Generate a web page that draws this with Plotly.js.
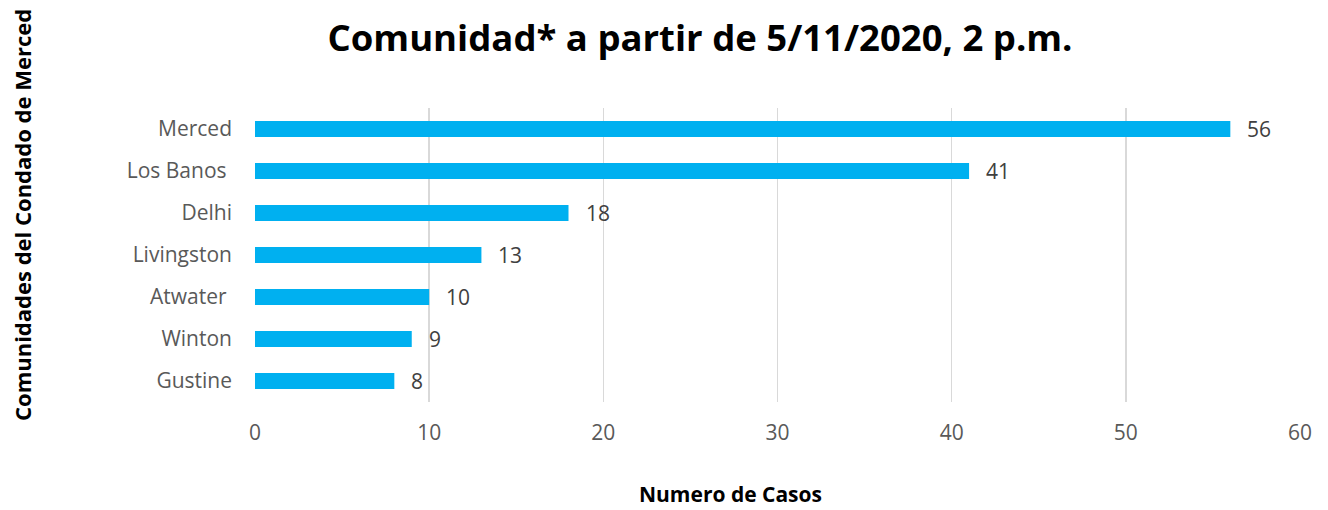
<!DOCTYPE html>
<html>
<head>
<meta charset="utf-8">
<script src="https://cdn.plot.ly/plotly-3.0.1.min.js"></script>
<style>html,body{margin:0;padding:0;background:#fff;}#chart{width:1328px;height:510px;}</style>
</head>
<body>
<div id="chart"></div>
<script>
const communities = ["Merced", "Los Banos\u00a0", "Delhi", "Livingston", "Atwater\u00a0", "Winton", "Gustine"];
const cases = [56, 41, 18, 13, 10, 9, 8];
const xTicks = [0, 10, 20, 30, 40, 50, 60];

const FONT = "Open Sans, Noto Sans, sans-serif";

const labelAnnotations = communities.map((c, i) => ({
  x: cases[i], y: c, xref: "x", yref: "y",
  text: String(cases[i]), showarrow: false,
  xanchor: "left", xshift: 15,
  font: {family: FONT, size: 21, color: "#404040"}
}));

const data = [{
  type: "bar", orientation: "h",
  x: cases, y: communities,
  marker: {color: "#00B0F0"},
  hoverinfo: "none"
}];

const layout = {
  width: 1328, height: 510,
  margin: {l: 255, r: 28, t: 108, b: 108},
  paper_bgcolor: "#fff", plot_bgcolor: "#fff",
  bargap: 0.62,
  showlegend: false,
  title: {
    text: "<b>Comunidad* a partir de 5/11/2020, 2 p.m.</b>",
    font: {family: FONT, size: 36.5, color: "#000"},
    x: 700 / 1328, xref: "container", xanchor: "center",
    y: 1 - 38 / 510, yref: "container", yanchor: "middle"
  },
  xaxis: {
    range: [0, 60], tickvals: xTicks, ticktext: xTicks.map(String),
    showgrid: true, gridcolor: "#d9d9d9", gridwidth: 1.5,
    zeroline: false, showline: false, ticks: "",
    ticklabelstandoff: 16,
    tickfont: {family: FONT, size: 21, color: "#595959"},
    fixedrange: true
  },
  yaxis: {
    categoryorder: "array", categoryarray: communities.slice().reverse(),
    autorange: true,
    showgrid: false, zeroline: false, showline: false, ticks: "",
    ticklabelstandoff: 22,
    tickfont: {family: FONT, size: 21, color: "#595959"},
    fixedrange: true
  },
  annotations: labelAnnotations.concat([
    {
      text: "<b>Numero de Casos</b>", showarrow: false,
      xref: "paper", yref: "paper",
      x: (730 - 255) / 1045, y: -(494 - 402) / 294,
      xanchor: "center", yanchor: "middle",
      font: {family: FONT, size: 21, color: "#000"}
    },
    {
      text: "<b>Comunidades del Condado de Merced</b>", showarrow: false,
      xref: "paper", yref: "paper", textangle: -90,
      x: -(255 - 22) / 1045, y: (402 - 215) / 294,
      xanchor: "center", yanchor: "middle",
      font: {family: FONT, size: 22, color: "#000"}
    }
  ])
};

Plotly.newPlot("chart", data, layout, {displayModeBar: false, staticPlot: true});
</script>
</body>
</html>
